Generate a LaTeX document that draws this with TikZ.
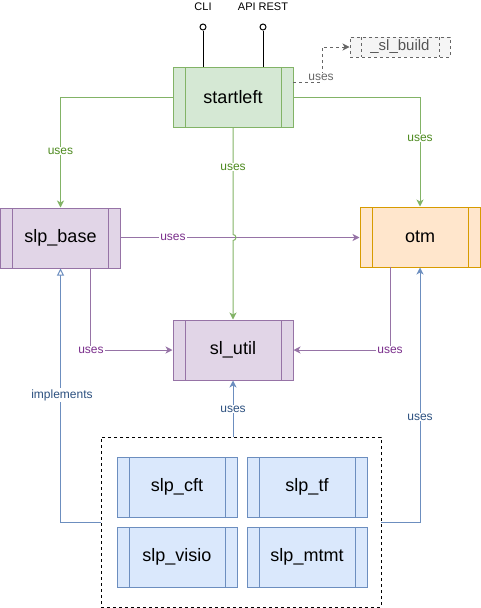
\documentclass[tikz,border=0pt]{standalone}
\usepackage{fontspec}
\setmainfont{Liberation Sans}
\usetikzlibrary{arrows.meta,calc}
\definecolor{gfill}{HTML}{D5E8D4}\definecolor{gline}{HTML}{82B366}\definecolor{gtext}{HTML}{4D8A1F}
\definecolor{pfill}{HTML}{E1D5E7}\definecolor{pline}{HTML}{9673A6}\definecolor{ptext}{HTML}{7B2F8C}
\definecolor{bfill}{HTML}{DAE8FC}\definecolor{bline}{HTML}{6C8EBF}\definecolor{btext}{HTML}{2D5180}
\definecolor{ofill}{HTML}{FFE6CC}\definecolor{oline}{HTML}{D79B00}
\definecolor{grfill}{HTML}{F5F5F5}\definecolor{grline}{HTML}{666666}\definecolor{grtext}{HTML}{555555}
\tikzset{
  proc/.style n args={3}{draw=#1, fill=#2, line width=1pt, minimum width=120pt, minimum height=60pt,
    inner sep=0pt, font=\fontsize{18}{21}\selectfont,
    path picture={\draw[#1, line width=1pt]
      ([xshift=#3]path picture bounding box.north west) -- ([xshift=#3]path picture bounding box.south west)
      ([xshift=-#3]path picture bounding box.north east) -- ([xshift=-#3]path picture bounding box.south east);}},
  lbl/.style={fill=white, inner sep=1pt, font=\fontsize{12}{14}\selectfont},
  tip/.style={-{Stealth[length=7pt,width=7pt,inset=2pt]}},
  ge/.style={draw=gline, line width=1pt, tip},
  pe/.style={draw=pline, line width=1pt, tip},
  be/.style={draw=bline, line width=1pt, tip},
}
\begin{document}
\begin{tikzpicture}[x=1pt,y=-1pt]
\useasboundingbox (0,0) rectangle (481,608);
% nodes
\node[proc={gline}{gfill}{12pt}] (startleft) at (233,97) {startleft};
\node[proc={pline}{pfill}{12pt}] (slpbase) at (60.5,238) {slp\_base};
\node[proc={oline}{ofill}{12pt}] (otm) at (420,237) {otm};
\node[proc={pline}{pfill}{12pt}] (slutil) at (233,350) {sl\_util};
\node[draw=black, dash pattern=on 3pt off 3pt, line width=1pt, minimum width=280pt, minimum height=170pt, inner sep=0pt] (group) at (241,522) {};
\node[proc={bline}{bfill}{12pt}] (cft) at (177,487) {slp\_cft};
\node[proc={bline}{bfill}{12pt}] (tf) at (307,487) {slp\_tf};
\node[proc={bline}{bfill}{12pt}] (visio) at (177,557) {slp\_visio};
\node[proc={bline}{bfill}{12pt}] (mtmt) at (307,557) {slp\_mtmt};
\node[proc={grline}{grfill}{11pt}, dash pattern=on 3pt off 3pt, minimum width=100pt, minimum height=20pt,
  text=grtext, font=\fontsize{15}{18}\selectfont] (build) at (400,47) {\_sl\_build};
% interface circles
\node[circle, draw=black, fill=white, line width=1pt, minimum size=6pt, inner sep=0pt] (cliC) at (203,27) {};
\node[circle, draw=black, fill=white, line width=1pt, minimum size=6pt, inner sep=0pt] (apiC) at (263,27) {};
\node[font=\fontsize{11}{13}\selectfont] (cliT) at (203,7) {CLI};
\node[font=\fontsize{11}{13}\selectfont] (apiT) at (263,7) {API REST};
\draw[line width=1pt] (cliC) -- (cliC |- startleft.north);
\draw[line width=1pt] (apiC) -- (apiC |- startleft.north);
% helper coordinates
\coordinate (sA) at (293,82);
\coordinate (sB) at (322,82);
\coordinate (hopA) at (233,234.5);
\coordinate (pb) at (90.5,268);
\coordinate (ob) at (390,267);
\coordinate (gl) at (101,522);
\coordinate (gr) at (381,522);
% startleft -> _sl_build
\draw[draw=grline, line width=1pt, dash pattern=on 3pt off 3pt, -{Stealth[length=7pt,width=7pt,inset=2pt]}]
  (sA) -- (sB) -- (sB |- build.west) -- (build.west);
\node[lbl, text=grline] (l0) at (321,77) {uses};
% green edges
\draw[ge] (startleft.west) -| (slpbase.north);
\node[lbl, text=gtext] (l1) at (60.5,151) {uses};
\draw[ge] (startleft.east) -| (otm.north);
\node[lbl, text=gtext] (l2) at (420,138) {uses};
% purple horizontal (drawn first, green hops over)
\draw[pe] (slpbase.east |- 0,237.5) -- (otm.west |- 0,237.5);
\node[lbl, text=ptext] (l4) at (173,237) {uses};
\draw[ge] (startleft.south) -- (hopA) arc(-90:90:3) -- (slutil.north);
\node[lbl, text=gtext] (l3) at (233,167) {uses};
% purple to sl_util
\draw[pe] (pb) |- (slutil.west);
\node[lbl, text=ptext] (l5) at (91,350) {uses};
\draw[pe] (ob) |- (slutil.east);
\node[lbl, text=ptext] (l6) at (390,350) {uses};
% blue edges
\draw[be] (slutil.south |- group.north) -- (slutil.south);
\node[lbl, text=btext] (l7) at (233,409) {uses};
\draw[draw=bline, line width=1pt, -{Triangle[open, length=7pt, width=7pt, fill=white]}] (gl) -| (slpbase.south);
\node[lbl, text=btext] (l8) at (62,395) {implements};
\draw[be] (gr) -| (otm.south);
\node[lbl, text=btext] (l9) at (420,417) {uses};
\end{tikzpicture}
\end{document}
